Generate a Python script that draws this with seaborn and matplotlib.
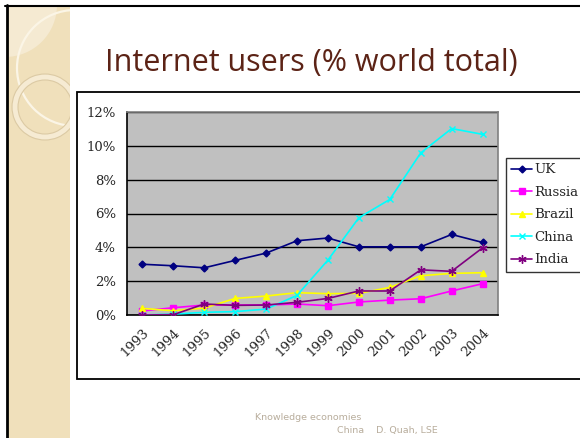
import matplotlib
matplotlib.use("Agg")
import matplotlib.pyplot as plt
from matplotlib.patches import Rectangle, Circle, Wedge
from matplotlib.lines import Line2D
import seaborn as sns
import pandas as pd

years = ["1993", "1994", "1995", "1996", "1997", "1998", "1999", "2000", "2001", "2002", "2003", "2004"]
uk = [3.00, 2.91, 2.79, 3.23, 3.66, 4.39, 4.55, 4.03, 4.03, 4.03, 4.76, 4.29]
russia = [0.24, 0.43, 0.59, 0.59, 0.59, 0.65, 0.55, 0.77, 0.88, 0.96, 1.42, 1.85]
brazil = [0.39, 0.25, 0.41, 0.98, 1.12, 1.32, 1.26, 1.28, 1.63, 2.32, 2.46, 2.50]
china = [0.00, 0.05, 0.16, 0.20, 0.35, 1.16, 3.25, 5.75, 6.83, 9.58, 11.02, 10.68]
india = [0.00, 0.02, 0.65, 0.57, 0.59, 0.75, 0.98, 1.42, 1.42, 2.67, 2.58, 3.97]
series_names = ["UK", "Russia", "Brazil", "China", "India"]
yticks = [0, 2, 4, 6, 8, 10, 12]
title = "Internet users (% world total)"
footer1 = "Knowledge economies"
footer2 = "China    D. Quah, LSE"

colors = {"UK": "#000080", "Russia": "#FF00FF", "Brazil": "#FFFF00", "China": "#00FFFF", "India": "#800080"}
markers = {"UK": "D", "Russia": "s", "Brazil": "^", "China": "x", "India": (6, 2, 0)}
msizes = {"UK": 3.5, "Russia": 4.5, "Brazil": 5, "China": 5, "India": 6}

values = {"UK": uk, "Russia": russia, "Brazil": brazil, "China": china, "India": india}
rows = []
for name in series_names:
    for i, (yr, v) in enumerate(zip(years, values[name])):
        rows.append({"pos": i, "year": yr, "country": name, "value": v})
df = pd.DataFrame(rows)

sns.set_theme(style="white")
plt.rcParams["font.family"] = ["DejaVu Serif"]

W, H = 580, 438
fig = plt.figure(figsize=(W / 100, H / 100), dpi=100)
fig.patch.set_facecolor("white")

def fx(x):
    return x / W

def fy(y):
    return 1 - y / H

# left decorative strip
strip = Rectangle((fx(8), 0), fx(62), fy(7), transform=fig.transFigure,
                  facecolor="#f0e0bb", edgecolor="none", zorder=0)
fig.patches.append(strip)
decor = [
    Circle((5, H - 5), 52, transform=None, facecolor="#f5ead2", edgecolor="none", zorder=1),
    Circle((75, H - 68), 58, transform=None, facecolor="none", edgecolor="#fbf5e6", linewidth=1.6, zorder=1),
    Wedge((45, H - 107), 33, 0, 360, width=6, transform=None, facecolor="#f6ebd3",
          edgecolor="#dccaa4", linewidth=0.8, zorder=1),
]
for p in decor:
    p.set_clip_path(strip)
    fig.patches.append(p)

# slide borders
fig.add_artist(Line2D([fx(6.5), fx(6.5)], [0, fy(5)], transform=fig.transFigure, color="black", lw=2.0, zorder=3))
fig.add_artist(Line2D([fx(5), 1], [fy(6), fy(6)], transform=fig.transFigure, color="black", lw=1.5, zorder=3))

# chart frame
fig.patches.append(Rectangle((fx(77), fy(379)), fx(520), fy(92) - fy(379), transform=fig.transFigure,
                             facecolor="white", edgecolor="black", lw=1.3, zorder=1))

fig.text(fx(105), fy(71), title, fontsize=22, color="#5c2316", family=["Open Sans", "DejaVu Sans"],
         ha="left", va="baseline")
fig.text(fx(255), fy(420), footer1, fontsize=6.8, color="#b8ad9c", family=["DejaVu Sans"],
         ha="left", va="baseline")
fig.text(fx(337), fy(433), footer2, fontsize=6.8, color="#b8ad9c", family=["DejaVu Sans"],
         ha="left", va="baseline")

ax = fig.add_axes([fx(127), fy(315), fx(371), fy(112) - fy(315)])
ax.set_facecolor("#c0c0c0")
ax.set_zorder(2)

for name in series_names:
    sub = df[df["country"] == name]
    sns.lineplot(data=sub, x="pos", y="value", ax=ax, color=colors[name], marker=markers[name],
                 markersize=msizes[name], markeredgecolor=colors[name], markerfacecolor=colors[name],
                 markeredgewidth=1.0, linewidth=1.2, label=name, legend=False, zorder=3)

ax.set_xlim(-0.5, len(years) - 0.5)
ax.set_ylim(0, 12)
ax.set_yticks(yticks)
ax.set_yticklabels([f"{t}%" for t in yticks], fontsize=9.5)
ax.yaxis.grid(True, color="black", linewidth=1.0)
ax.set_axisbelow(True)

ax.set_xticks([i - 0.5 for i in range(len(years) + 1)])
ax.set_xticklabels([])
ax.set_xticks(range(len(years)), minor=True)
ax.set_xticklabels(years, minor=True, rotation=45, ha="right", rotation_mode="anchor", fontsize=9.5)
ax.tick_params(axis="x", which="minor", length=0, pad=8)
ax.tick_params(axis="x", which="major", length=5, width=1, color="black", direction="out")
ax.tick_params(axis="y", length=5, width=1, color="black", direction="out", pad=3)
ax.set_xlabel("")
ax.set_ylabel("")
for s in ["top", "right"]:
    ax.spines[s].set_color("#808080")
    ax.spines[s].set_linewidth(1.2)
for s in ["left", "bottom"]:
    ax.spines[s].set_color("black")
    ax.spines[s].set_linewidth(1.2)
for s in ax.spines.values():
    s.set_visible(True)

handles, labels = ax.get_legend_handles_labels()
leg = fig.legend(handles, labels, loc="upper left", bbox_to_anchor=(fx(506), fy(158)),
                 bbox_transform=fig.transFigure, frameon=True, fancybox=False, fontsize=9.5,
                 handlelength=1.55, handletextpad=0.2, borderpad=0.4, labelspacing=0.72,
                 borderaxespad=0)
leg.get_frame().set_edgecolor("black")
leg.get_frame().set_linewidth(1.0)
leg.set_zorder(5)

fig.savefig("out.png", dpi=100)
